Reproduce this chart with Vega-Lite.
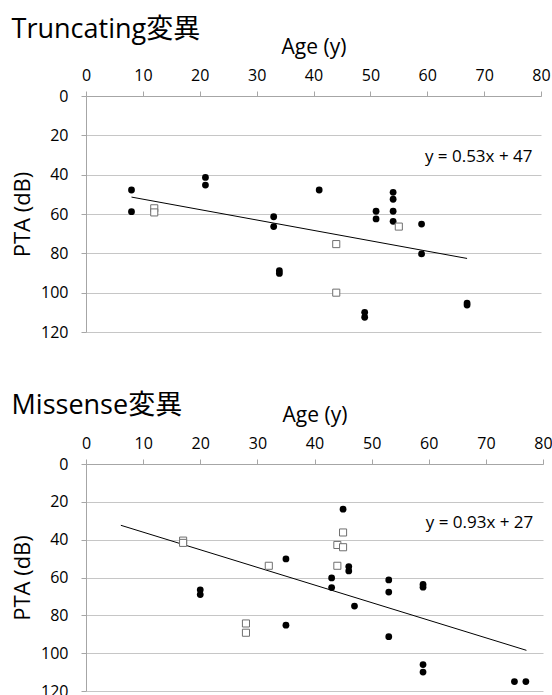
{
  "$schema": "https://vega.github.io/schema/vega-lite/v6.json",
  "padding": {"left": 11, "top": 16, "right": 0, "bottom": 0},
  "spacing": 52,
  "config": {
    "font": "Open Sans",
    "view": {"stroke": null},
    "title": {"fontSize": 27, "fontWeight": "normal", "anchor": "start", "frame": "bounds", "font": "Open Sans, Noto Sans CJK JP", "color": "black"},
    "axis": {"labelFont": "Open Sans", "titleFont": "Open Sans", "labelColor": "black", "titleColor": "black", "titleFontWeight": "normal", "domainColor": "#a6a6a6", "tickColor": "#a6a6a6", "gridColor": "#c6c6c6", "tickSize": 5, "labelFontSize": 16}
  },
  "datasets": {
    "trunc": [
      {"age": 8, "pta": 47.8, "type": "circle"}, {"age": 8, "pta": 58.8, "type": "circle"},
      {"age": 21, "pta": 41.4, "type": "circle"}, {"age": 21, "pta": 45.3, "type": "circle"},
      {"age": 33, "pta": 61.4, "type": "circle"}, {"age": 33, "pta": 66.4, "type": "circle"},
      {"age": 34, "pta": 88.8, "type": "circle"}, {"age": 34, "pta": 90.2, "type": "circle"},
      {"age": 41, "pta": 47.8, "type": "circle"},
      {"age": 49, "pta": 110, "type": "circle"}, {"age": 49, "pta": 112.5, "type": "circle"},
      {"age": 51, "pta": 58.6, "type": "circle"}, {"age": 51, "pta": 62.5, "type": "circle"},
      {"age": 54, "pta": 49, "type": "circle"}, {"age": 54, "pta": 52.5, "type": "circle"},
      {"age": 54, "pta": 58.6, "type": "circle"}, {"age": 54, "pta": 63.7, "type": "circle"},
      {"age": 59, "pta": 65.1, "type": "circle"}, {"age": 59, "pta": 80.3, "type": "circle"},
      {"age": 67, "pta": 105.3, "type": "circle"}, {"age": 67, "pta": 106.3, "type": "circle"},
      {"age": 12, "pta": 57.1, "type": "square"}, {"age": 12, "pta": 59.2, "type": "square"},
      {"age": 44, "pta": 75.3, "type": "square"}, {"age": 44, "pta": 100, "type": "square"},
      {"age": 55, "pta": 66.4, "type": "square"}
    ],
    "trunc_line": [{"age": 8, "pta": 51.4}, {"age": 67, "pta": 82.6}],
    "trunc_eq": [{"age": 78.5, "pta": 31, "label": "y = 0.53x + 47"}],
    "mis": [
      {"age": 20, "pta": 66.5, "type": "circle"}, {"age": 20, "pta": 69, "type": "circle"},
      {"age": 35, "pta": 50.2, "type": "circle"}, {"age": 35, "pta": 85.2, "type": "circle"},
      {"age": 43, "pta": 60.2, "type": "circle"}, {"age": 43, "pta": 65.3, "type": "circle"},
      {"age": 45, "pta": 23.9, "type": "circle"},
      {"age": 46, "pta": 54.2, "type": "circle"}, {"age": 46, "pta": 56.5, "type": "circle"},
      {"age": 47, "pta": 75.1, "type": "circle"},
      {"age": 53, "pta": 61.3, "type": "circle"}, {"age": 53, "pta": 67.7, "type": "circle"},
      {"age": 53, "pta": 91.3, "type": "circle"},
      {"age": 59, "pta": 63.7, "type": "circle"}, {"age": 59, "pta": 65.1, "type": "circle"},
      {"age": 59, "pta": 106, "type": "circle"}, {"age": 59, "pta": 110, "type": "circle"},
      {"age": 75, "pta": 115, "type": "circle"}, {"age": 77, "pta": 115, "type": "circle"},
      {"age": 17, "pta": 40.5, "type": "square"}, {"age": 17, "pta": 41.7, "type": "square"},
      {"age": 28, "pta": 84.3, "type": "square"}, {"age": 28, "pta": 89.2, "type": "square"},
      {"age": 32, "pta": 53.8, "type": "square"},
      {"age": 44, "pta": 53.8, "type": "square"}, {"age": 44, "pta": 42.8, "type": "square"},
      {"age": 45, "pta": 36.2, "type": "square"}, {"age": 45, "pta": 44, "type": "square"}
    ],
    "mis_line": [{"age": 6.1, "pta": 32.4}, {"age": 77.1, "pta": 98.5}],
    "mis_eq": [{"age": 78.3, "pta": 31, "label": "y = 0.93x + 27"}]
  },
  "vconcat": [
    {
      "title": {"text": "Truncating変異", "offset": -8},
      "width": 455,
      "height": 236,
      "encoding": {
        "x": {"field": "age", "type": "quantitative", "scale": {"domain": [0, 80], "nice": false, "zero": false},
              "axis": {"orient": "top", "values": [0, 10, 20, 30, 40, 50, 60, 70, 80], "grid": false, "title": "Age (y)", "titleFontSize": 21, "labelPadding": 8, "titlePadding": 10, "labelFlush": false}},
        "y": {"field": "pta", "type": "quantitative", "scale": {"domain": [0, 120], "reverse": true, "nice": false},
              "axis": {"values": [0, 20, 40, 60, 80, 100, 120], "grid": true, "title": "PTA (dB)", "titleFontSize": 22, "labelPadding": 13, "titlePadding": 6}}
      },
      "layer": [
        {"data": {"name": "trunc_line"}, "mark": {"type": "line", "color": "black", "strokeWidth": 1}},
        {"data": {"name": "trunc"}, "transform": [{"filter": "datum.type === 'circle'"}],
         "mark": {"type": "point", "shape": "circle", "filled": true, "color": "black", "opacity": 1, "size": 46}},
        {"data": {"name": "trunc"}, "transform": [{"filter": "datum.type === 'square'"}],
         "mark": {"type": "point", "shape": "square", "filled": false, "fill": "white", "stroke": "#6f6f6f", "strokeWidth": 1, "opacity": 1, "size": 50}},
        {"data": {"name": "trunc_eq"}, "mark": {"type": "text", "align": "right", "baseline": "middle", "fontSize": 17, "color": "black"},
         "encoding": {"text": {"field": "label"}}}
      ]
    },
    {
      "title": {"text": "Missense変異", "offset": -16},
      "width": 457,
      "height": 227,
      "encoding": {
        "x": {"field": "age", "type": "quantitative", "scale": {"domain": [0, 80], "nice": false, "zero": false},
              "axis": {"orient": "top", "values": [0, 10, 20, 30, 40, 50, 60, 70, 80], "grid": false, "title": "Age (y)", "titleFontSize": 21, "labelPadding": 8, "titlePadding": 10, "labelFlush": false}},
        "y": {"field": "pta", "type": "quantitative", "scale": {"domain": [0, 120], "reverse": true, "nice": false},
              "axis": {"values": [0, 20, 40, 60, 80, 100, 120], "grid": true, "title": "PTA (dB)", "titleFontSize": 22, "labelPadding": 13, "titlePadding": 6}}
      },
      "layer": [
        {"data": {"name": "mis_line"}, "mark": {"type": "line", "color": "black", "strokeWidth": 1}},
        {"data": {"name": "mis"}, "transform": [{"filter": "datum.type === 'circle'"}],
         "mark": {"type": "point", "shape": "circle", "filled": true, "color": "black", "opacity": 1, "size": 46}},
        {"data": {"name": "mis"}, "transform": [{"filter": "datum.type === 'square'"}],
         "mark": {"type": "point", "shape": "square", "filled": false, "fill": "white", "stroke": "#6f6f6f", "strokeWidth": 1, "opacity": 1, "size": 50}},
        {"data": {"name": "mis_eq"}, "mark": {"type": "text", "align": "right", "baseline": "middle", "fontSize": 17, "color": "black"},
         "encoding": {"text": {"field": "label"}}}
      ]
    }
  ]
}
